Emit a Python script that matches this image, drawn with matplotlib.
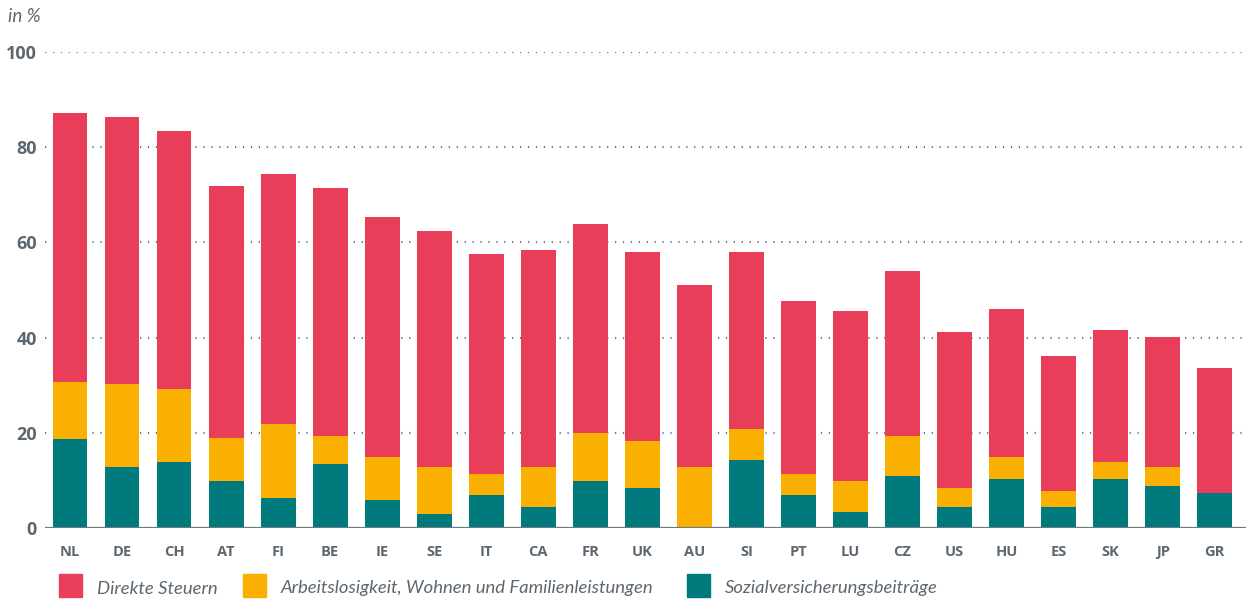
import numpy as np
import matplotlib
matplotlib.use('Agg')
import matplotlib.pyplot as plt
from matplotlib.patches import Rectangle

# ---------------------------------------------------------------------------
# Data (values in %)
# ---------------------------------------------------------------------------
countries = ['NL', 'DE', 'CH', 'AT', 'FI', 'BE', 'IE', 'SE', 'IT', 'CA', 'FR', 'UK',
             'AU', 'SI', 'PT', 'LU', 'CZ', 'US', 'HU', 'ES', 'SK', 'JP', 'GR']
sozialversicherung = [18.8, 12.9, 13.9, 9.9, 6.4, 13.4, 5.9, 3.0, 6.9, 4.5, 9.9, 8.4,
                      0.0, 14.4, 6.9, 3.5, 10.9, 4.5, 10.4, 4.5, 10.4, 8.9, 7.4]
leistungen = [12.0, 17.3, 15.4, 9.0, 15.5, 5.9, 9.0, 9.9, 4.5, 8.4, 10.0, 9.9,
              12.9, 6.4, 4.5, 6.4, 8.4, 3.9, 4.5, 3.4, 3.5, 4.0, 0.0]
direkte_steuern = [56.4, 56.1, 54.0, 52.9, 52.4, 52.1, 50.5, 49.5, 46.1, 45.5, 44.0, 39.7,
                   38.1, 37.2, 36.2, 35.7, 34.7, 32.7, 31.2, 28.3, 27.7, 27.3, 26.3]

series_labels = ['Direkte Steuern',
                 'Arbeitslosigkeit, Wohnen und Familienleistungen',
                 'Sozialversicherungsbeiträge']
yticks = [0, 20, 40, 60, 80, 100]

RED = '#e83e5a'
YELLOW = '#f9b000'
TEAL = '#007a7d'
TEXT = '#5c6770'
GRID = '#6d7a82'

plt.rcParams['font.family'] = ['Lato', 'DejaVu Sans']
TICKFONT = ['Open Sans', 'DejaVu Sans']

fig = plt.figure(figsize=(12.46, 6), dpi=100)
ax = fig.add_axes([45 / 1246, 1 - 528.3 / 600, 1201 / 1246, (528.3 - 51.7) / 600])

x = np.arange(len(countries))
soz = np.array(sozialversicherung)
lei = np.array(leistungen)
ds = np.array(direkte_steuern)
w = 0.67

ax.bar(x, soz, w, color=TEAL, zorder=2)
ax.bar(x, lei, w, bottom=soz, color=YELLOW, zorder=2)
ax.bar(x, ds, w, bottom=soz + lei, color=RED, zorder=2)

ax.set_xlim(-0.48, 22.6)
ax.set_ylim(0, 100)

# dotted grid, solid baseline
for v in yticks[1:]:
    ax.axhline(v, color=GRID, lw=1.5, linestyle=(0, (0.6, 3.2)), zorder=1)
ax.axhline(0, color=GRID, lw=1.6, zorder=3)

for s in ax.spines.values():
    s.set_visible(False)

ax.set_yticks(yticks)
ax.set_yticklabels([str(t) for t in yticks], fontsize=13, fontweight='bold',
                   color=TEXT, family=TICKFONT)
ax.set_xticks(x)
ax.set_xticklabels(countries, fontsize=10.5, fontweight='bold', color=TEXT,
                   family=TICKFONT)
ax.tick_params(axis='y', length=0, pad=6)
ax.tick_params(axis='x', length=0, pad=12)

fig.text(8 / 1246, 1 - 16 / 600, 'in %', fontsize=13.5, style='italic', color=TEXT,
         ha='left', va='center')

# legend, laid out like the reference
leg_colors = [RED, YELLOW, TEAL]
sq_x = [59, 243, 687]
for lab, col, px in zip(series_labels, leg_colors, sq_x):
    fig.patches.append(Rectangle((px / 1246, 1 - 597 / 600), 23 / 1246, 23 / 600,
                                 transform=fig.transFigure, color=col, figure=fig))
    fig.text((px + 38) / 1246, 1 - 588.5 / 600, lab, fontsize=13.3, style='italic',
             color=TEXT, ha='left', va='center')

fig.savefig('out.png', dpi=100)
